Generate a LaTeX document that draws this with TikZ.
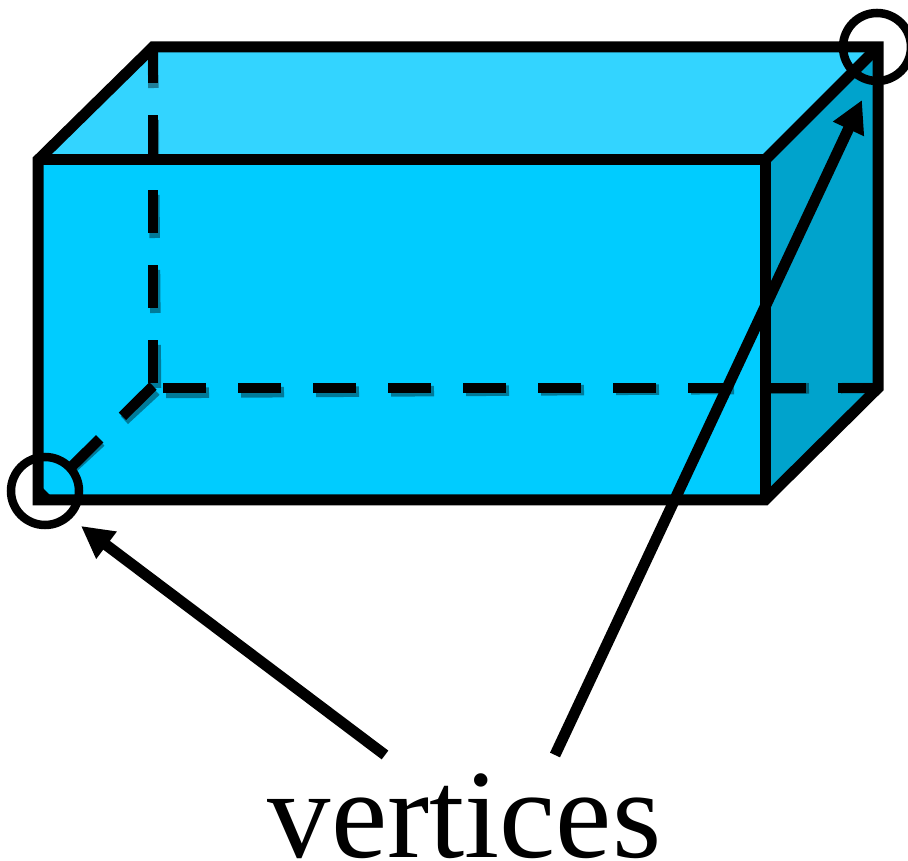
\documentclass[tikz,border=0pt]{standalone}
\usepackage{fontspec}
\setmainfont{Liberation Serif}
\usetikzlibrary{arrows.meta}
\definecolor{boxfront}{RGB}{0,204,255}
\definecolor{boxtop}{RGB}{51,212,255}
\definecolor{boxside}{RGB}{0,163,204}

\begin{document}
\begin{tikzpicture}[
      edge/.style={line width=0.22cm, line join=miter},
      hidden/.style={line width=0.21cm, dash pattern=on 0.86cm off 0.64cm},
      hiddenshade/.style={hidden, draw=black, draw opacity=0.4, shift={(0.06,-0.1)}},
      ring/.style={draw, circle, line width=0.17cm, minimum size=1.36cm, inner sep=0pt},
      pointer/.style={line width=0.22cm, -{Triangle[length=0.64cm,width=0.64cm]}}
    ]
      \useasboundingbox (0,0) rectangle (18.16,17.2);
      \clip (0,0) rectangle (18.16,17.2);

      \coordinate (fsw) at (0.76,7.2);
      \coordinate (fse) at (15.3,7.2);
      \coordinate (fne) at (15.3,14);
      \coordinate (fnw) at (0.76,14);
      \coordinate (bsw) at (3.06,9.44);
      \coordinate (bse) at (17.56,9.44);
      \coordinate (bne) at (17.56,16.26);
      \coordinate (bnw) at (3.06,16.26);

      \fill[boxside] (fse) -- (bse) -- (bne) -- (fne) -- cycle;
      \fill[boxtop] (fnw) -- (bnw) -- (bne) -- (fne) -- cycle;
      \fill[boxfront] (fsw) rectangle (fne);

      % hidden edges
      \draw[hiddenshade] (3.06,9.54) -- (bnw);
      \draw[hiddenshade] (3.26,9.44) -- (bse);
      \draw[hiddenshade] (3.06,9.48) -- (fsw);
      \draw[hidden] (3.06,9.54) -- (bnw);
      \draw[hidden] (3.26,9.44) -- (bse);
      \draw[hidden] (3.06,9.48) -- (fsw);

      % visible edges
      \draw[edge] (fsw) -- (fse) -- (bse) -- (bne) -- (bnw) -- (fnw) -- cycle;
      \draw[edge] (fnw) -- (fne) -- (fse);
      \draw[edge] (fne) -- (bne);

      \node[ring] (ringleft) at (0.9,7.38) {};
      \node[ring] (ringright) at (17.54,16.26) {};

      \node[anchor=base, font=\fontsize{72pt}{72pt}\selectfont, inner sep=0pt] (vertices) at (9.29,0.06) {vertices};

      \coordinate (startleft) at (7.7,2.1);
      \coordinate (startright) at (11.1,2.1);
      \coordinate (tipleft) at (1.62,6.68);
      \coordinate (tipright) at (17.24,15.2);
      \draw[pointer] (startleft) -- (tipleft);
      \draw[pointer] (startright) -- (tipright);
    \end{tikzpicture}
\end{document}
